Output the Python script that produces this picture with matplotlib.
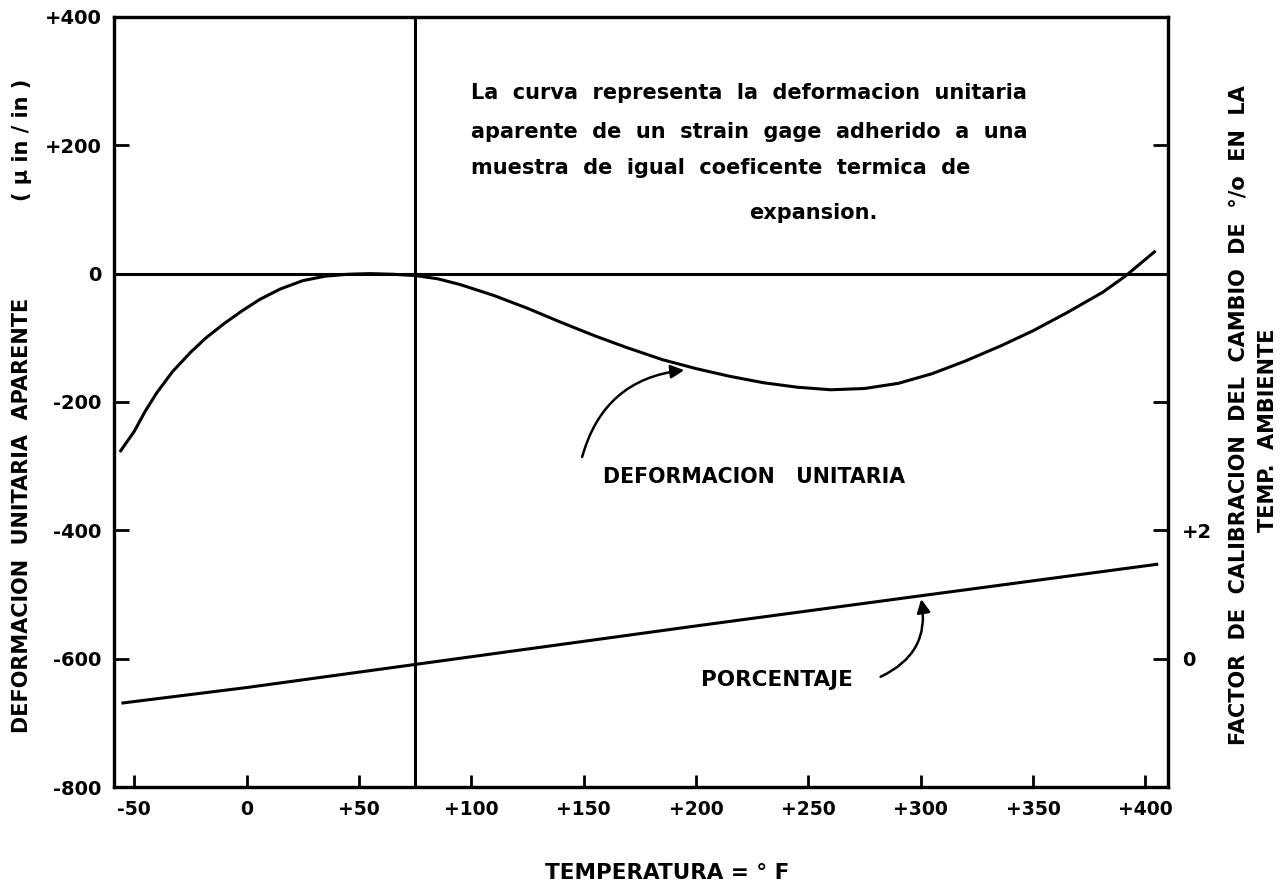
import matplotlib
matplotlib.use("Agg")
import matplotlib.pyplot as plt

# apparent strain curve, microstrain vs temperature (F)
strain_temp = [-56, -50, -45, -40, -33, -25, -18, -10, -2, 6, 15, 25, 35, 45,
               55, 65, 75, 85, 95, 110, 125, 140, 155, 169, 185, 200, 215,
               230, 245, 260, 275, 290, 305, 320, 336, 350, 365, 381, 391, 404]
strain_val = [-276, -246, -214, -186, -153, -123, -100, -78, -58, -40, -24, -11,
              -4, -1, 0, -1, -3, -8, -17, -34, -54, -76, -97, -115, -134, -148,
              -160, -170, -177, -181, -179, -171, -156, -136, -112, -89, -61,
              -29, -4, 34]

# gage factor change, % (right axis)
pct_temp = [-55, 0, 50, 100, 200, 300, 405]
pct_val = [-0.69, -0.45, -0.21, 0.03, 0.51, 0.98, 1.47]

x_ticks = [-50, 0, 50, 100, 150, 200, 250, 300, 350, 400]
x_labels = ["-50", "0", "+50", "+100", "+150", "+200", "+250", "+300", "+350", "+400"]
y_ticks = [-800, -600, -400, -200, 0, 200, 400]
y_labels = ["-800", "-600", "-400", "-200", "0", "+200", "+400"]
r_ticks = [0, 2, 4, 6, 8]
r_labels = ["0", "+2", "", "", ""]

ROOM_T = 75

plt.rcParams["font.family"] = ["DejaVu Sans"]
plt.rcParams["font.weight"] = "bold"

fig = plt.figure(figsize=(12.86, 8.90), dpi=100)
ax = fig.add_axes([0.0886, 0.1157, 0.8196, 0.8653])

ax.plot(strain_temp, strain_val, color="black", lw=2.2)
ax.axhline(0, color="black", lw=2.2)
ax.axvline(ROOM_T, color="black", lw=2.2)

ax.set_xlim(-59, 410)
ax.set_ylim(-800, 400)
ax.set_xticks(x_ticks)
ax.set_xticklabels(x_labels)
ax.set_yticks(y_ticks)
ax.set_yticklabels(y_labels)
ax.tick_params(axis="x", direction="in", length=9, width=2, pad=9, labelsize=13.5)
ax.tick_params(axis="y", direction="in", length=11, width=2, pad=9, labelsize=14)
for s in ax.spines.values():
    s.set_linewidth(2.3)

ax2 = ax.twinx()
ax2.plot(pct_temp, pct_val, color="black", lw=2.2)
ax2.set_ylim(-2, 10)
ax2.set_yticks(r_ticks)
ax2.set_yticklabels(r_labels)
ax2.tick_params(axis="y", direction="in", length=11, width=2, pad=10, labelsize=14)
for s in ax2.spines.values():
    s.set_linewidth(2.3)

# note block
note = ["La  curva  representa  la  deformacion  unitaria",
        "aparente  de  un  strain  gage  adherido  a  una",
        "muestra  de  igual  coeficente  termica  de"]
for txt, yv in zip(note, [282, 221, 165]):
    ax.text(100, yv, txt, fontsize=15, ha="left", va="center")
ax.text(252, 95, "expansion.", fontsize=15, ha="center", va="center")

# curve labels with curved arrows
ax.text(226, -317, "DEFORMACION   UNITARIA", fontsize=14.8, ha="center", va="center")
ax.annotate("", xy=(196, -150), xytext=(149, -290),
            arrowprops=dict(arrowstyle="-|>", color="black", lw=1.8,
                            mutation_scale=20, connectionstyle="arc3,rad=-0.35"))
ax.text(236, -633, "PORCENTAJE", fontsize=15.5, ha="center", va="center")
ax.annotate("", xy=(300, -503), xytext=(281, -630),
            arrowprops=dict(arrowstyle="-|>", color="black", lw=1.8,
                            mutation_scale=20, connectionstyle="arc3,rad=0.4"))

# axis titles
fig.text(667 / 1286, 1 - 873 / 890, "TEMPERATURA = ° F", fontsize=15.5,
         ha="center", va="center")
fig.text(22 / 1286, 1 - 515 / 890, "DEFORMACION  UNITARIA  APARENTE", fontsize=15,
         rotation=90, ha="center", va="center")
fig.text(22 / 1286, 1 - 140 / 890, "( μ in / in )", fontsize=15,
         rotation=90, ha="center", va="center")
fig.text(1239 / 1286, 1 - 415 / 890,
         "FACTOR  DE  CALIBRACION  DEL  CAMBIO  DE  °/o  EN  LA", fontsize=15,
         rotation=90, ha="center", va="center")
fig.text(1268 / 1286, 1 - 430 / 890, "TEMP.  AMBIENTE", fontsize=15,
         rotation=90, ha="center", va="center")

fig.savefig("out.png", dpi=100)
